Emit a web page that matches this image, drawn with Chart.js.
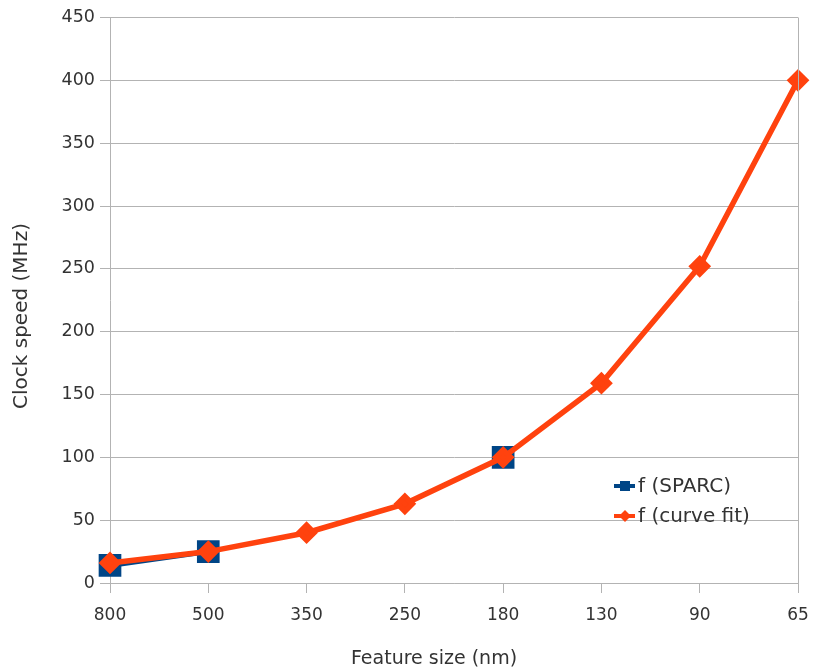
<!DOCTYPE html>
<html lang="en">
<head>
  <meta charset="UTF-8">
  <title>Clock speed vs feature size</title>
  <style>
    body { margin:0; background:#fff; }
    .wrap { position:relative; width:819px; height:670px; }
  </style>
</head>
<body>
<div class="wrap"><canvas id="chart" width="819" height="670"></canvas></div>
<script src="https://cdn.jsdelivr.net/npm/chart.js"></script>
<script>
// data
const featureSizes = ['800', '500', '350', '250', '180', '130', '90', '65'];
const sparc = [14, 25, null, null, 100, null, null, null];
const curveFit = [16, 25, 40, 63, 100, 159, 252, 400];
const seriesNames = ['f (SPARC)', 'f (curve fit)'];
const xTitle = 'Feature size (nm)';
const yTitle = 'Clock speed (MHz)';

const BLUE = '#004586';
const ORANGE = '#ff420e';
const GRID = '#b3b3b3';
const TEXT = '#333';
const FONT = "'DejaVu Sans', Verdana, sans-serif";

// axis titles, legend inside the plot, right frame line
const extras = {
  id: 'extras',
  afterDraw(chart) {
    const c = chart.ctx, a = chart.chartArea;
    c.save();
    c.strokeStyle = GRID; c.lineWidth = 1;
    c.beginPath(); c.moveTo(Math.round(a.right) + 0.5, a.top); c.lineTo(Math.round(a.right) + 0.5, a.bottom); c.stroke();

    c.fillStyle = TEXT;
    c.textAlign = 'center'; c.textBaseline = 'middle';
    c.font = '19px ' + FONT;
    c.fillText(xTitle, 434, 659);
    c.save();
    c.translate(22, 316); c.rotate(-Math.PI / 2);
    c.font = '20px ' + FONT;
    c.fillText(yTitle, 0, 0);
    c.restore();

    const items = [[BLUE, 'rect'], [ORANGE, 'rectRot']];
    c.font = '20px ' + FONT;
    c.textAlign = 'left';
    items.forEach((it, i) => {
      const y = 486 + i * 30, x = 614;
      c.fillStyle = it[0]; c.strokeStyle = it[0];
      c.lineWidth = 4;
      c.beginPath(); c.moveTo(x, y); c.lineTo(x + 21, y); c.stroke();
      if (it[1] === 'rect') c.fillRect(x + 6, y - 5, 10, 10);
      else { c.beginPath(); c.moveTo(x + 11, y - 6); c.lineTo(x + 17, y); c.lineTo(x + 11, y + 6); c.lineTo(x + 5, y); c.closePath(); c.fill(); }
      c.fillStyle = TEXT;
      c.fillText(seriesNames[i], x + 24, y + 1);
    });
    c.restore();
  }
};

new Chart(document.getElementById('chart'), {
  type: 'line',
  data: {
    labels: featureSizes,
    datasets: [
      { label: seriesNames[0], data: sparc, borderColor: BLUE, backgroundColor: BLUE,
        borderWidth: 5, pointStyle: 'rect', pointRadius: 12.5, pointHoverRadius: 12.5, spanGaps: false, order: 2 },
      { label: seriesNames[1], data: curveFit, borderColor: ORANGE, backgroundColor: ORANGE,
        borderWidth: 5.5, pointStyle: 'rectRot', pointRadius: 7.5, pointHoverRadius: 7.5, tension: 0, order: 1 }
    ]
  },
  options: {
    responsive: false,
    animation: false,
    layout: { padding: { top: 15, right: 21, bottom: 0, left: 0 } },
    plugins: { legend: { display: false }, tooltip: { enabled: false } },
    scales: {
      x: {
        offset: false,
        grid: { display: true, drawOnChartArea: false, color: GRID, tickLength: 10 },
        border: { color: GRID },
        ticks: { color: TEXT, font: { family: FONT, size: 17 }, padding: 12, maxRotation: 0 },
        afterFit(axis) { axis.height = 87; axis.paddingLeft = 0; axis.paddingRight = 0; }
      },
      y: {
        min: 0, max: 450,
        ticks: { stepSize: 50, color: TEXT, font: { family: FONT, size: 17.5 }, padding: 5 },
        grid: { color: GRID, tickLength: 10 },
        border: { color: GRID },
        afterFit(axis) { axis.width = 110; }
      }
    }
  },
  plugins: [extras]
});
</script>
</body>
</html>
